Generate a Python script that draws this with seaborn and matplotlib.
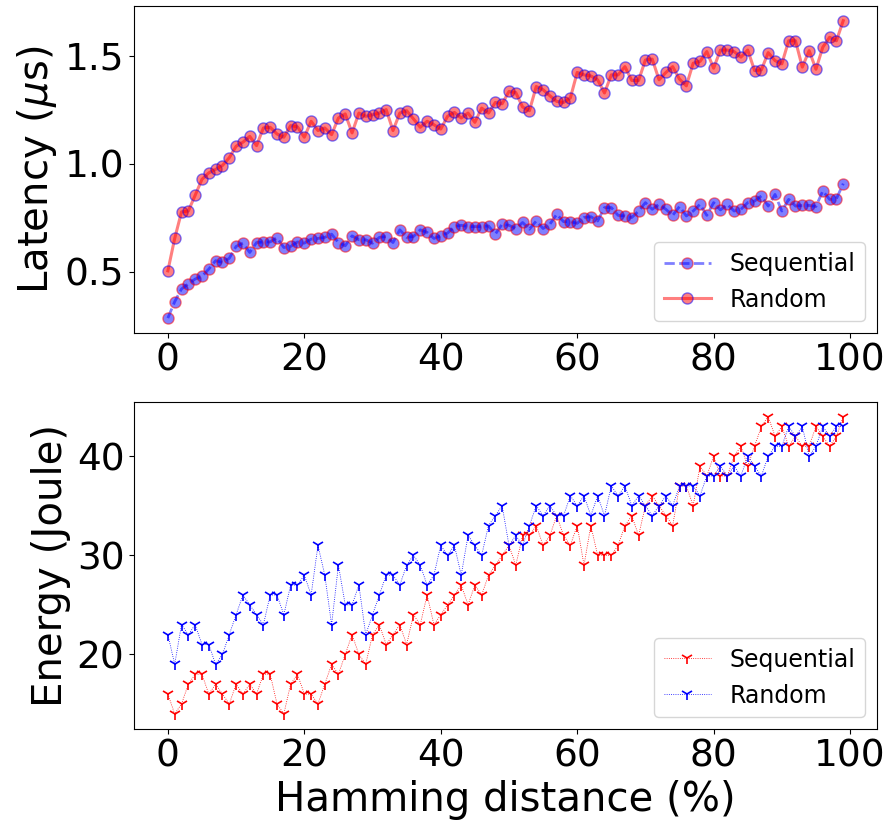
import numpy as np
import seaborn as sns
import matplotlib
matplotlib.use("Agg")
import matplotlib.pyplot as plt

hamming = np.arange(100)

# latency (us)
latency_seq = [
    0.285, 0.361, 0.420, 0.443, 0.466, 0.479, 0.512, 0.551, 0.543, 0.562,
    0.617, 0.632, 0.589, 0.635, 0.638, 0.638, 0.657, 0.612, 0.617, 0.638,
    0.632, 0.651, 0.654, 0.659, 0.674, 0.635, 0.620, 0.666, 0.648, 0.648,
    0.632, 0.659, 0.663, 0.635, 0.694, 0.659, 0.663, 0.694, 0.682, 0.654,
    0.666, 0.679, 0.709, 0.715, 0.709, 0.709, 0.709, 0.712, 0.674, 0.720,
    0.715, 0.700, 0.728, 0.697, 0.735, 0.700, 0.720, 0.766, 0.732, 0.732,
    0.724, 0.751, 0.755, 0.735, 0.797, 0.797, 0.761, 0.758, 0.751, 0.781,
    0.820, 0.789, 0.812, 0.789, 0.761, 0.802, 0.758, 0.781, 0.812, 0.761,
    0.820, 0.786, 0.812, 0.781, 0.789, 0.820, 0.827, 0.851, 0.804, 0.858,
    0.781, 0.835, 0.804, 0.807, 0.807, 0.802, 0.874, 0.835, 0.838, 0.908,
]
latency_rand = [
    0.504, 0.654, 0.777, 0.781, 0.854, 0.928, 0.958, 0.974, 0.992, 1.028,
    1.081, 1.100, 1.127, 1.084, 1.166, 1.169, 1.138, 1.123, 1.177, 1.171,
    1.123, 1.197, 1.154, 1.166, 1.135, 1.212, 1.231, 1.143, 1.235, 1.220,
    1.227, 1.235, 1.251, 1.154, 1.235, 1.246, 1.208, 1.169, 1.197, 1.181,
    1.161, 1.220, 1.238, 1.212, 1.235, 1.192, 1.258, 1.235, 1.284, 1.278,
    1.335, 1.330, 1.263, 1.246, 1.358, 1.343, 1.315, 1.289, 1.284, 1.305,
    1.423, 1.412, 1.407, 1.389, 1.328, 1.412, 1.412, 1.450, 1.386, 1.386,
    1.481, 1.485, 1.389, 1.423, 1.450, 1.392, 1.361, 1.466, 1.474, 1.520,
    1.443, 1.527, 1.527, 1.520, 1.494, 1.527, 1.432, 1.435, 1.515, 1.478,
    1.463, 1.570, 1.570, 1.448, 1.524, 1.438, 1.540, 1.586, 1.570, 1.663,
]

# energy (Joule), bottom panel
energy_seq = [
    16, 14, 15, 17, 18, 18, 16, 17, 16, 15, 17, 16, 17, 16, 18, 18, 15, 14, 17, 18,
    16, 16, 15, 17, 19, 18, 20, 22, 20, 19, 22, 23, 21, 22, 23, 21, 24, 23, 26, 23,
    24, 25, 26, 27, 25, 27, 26, 28, 29, 30, 31, 29, 32, 32, 33, 31, 32, 34, 32, 31,
    33, 29, 33, 30, 30, 30, 31, 33, 34, 32, 35, 36, 35, 34, 33, 37, 37, 35, 39, 38,
    40, 38, 38, 40, 41, 39, 41, 43, 44, 42, 43, 41, 42, 41, 41, 43, 42, 41, 42, 44,
]
energy_rand = [
    22, 19, 23, 22, 23, 21, 21, 19, 20, 22, 24, 26, 25, 24, 23, 26, 26, 24, 27, 27,
    28, 26, 31, 28, 23, 29, 25, 25, 27, 22, 24, 26, 28, 28, 27, 29, 30, 29, 27, 28,
    31, 30, 31, 28, 32, 31, 30, 33, 34, 35, 31, 32, 31, 33, 35, 34, 35, 34, 34, 36,
    35, 36, 34, 36, 34, 37, 36, 37, 35, 36, 35, 34, 35, 36, 35, 37, 37, 37, 36, 38,
    38, 39, 38, 39, 38, 40, 39, 38, 40, 41, 41, 43, 42, 43, 40, 41, 43, 42, 43, 43,
]

fig, (ax1, ax2) = plt.subplots(2, 1, figsize=(8.94, 8.31), dpi=100)
fig.subplots_adjust(left=0.150, right=0.981, top=0.993, bottom=0.123, hspace=0.21)

# top: latency
sns.lineplot(x=hamming, y=latency_seq, ax=ax1, color="blue", linestyle="--",
             linewidth=2, marker="o", markersize=8, markerfacecolor="blue",
             markeredgecolor="red", markeredgewidth=1, alpha=0.5, label="Sequential")
sns.lineplot(x=hamming, y=latency_rand, ax=ax1, color="red", linestyle="-",
             linewidth=2.2, marker="o", markersize=8, markerfacecolor="red",
             markeredgecolor="blue", markeredgewidth=1, alpha=0.5, label="Random")
ax1.set_ylabel("Latency ($\\mu$s)", fontsize=29)
ax1.set_xticks([0, 20, 40, 60, 80, 100])
ax1.set_yticks([0.5, 1.0, 1.5])
ax1.tick_params(labelsize=27)
ax1.legend(loc="lower right", fontsize=17)

# bottom: energy
sns.lineplot(x=hamming, y=energy_seq, ax=ax2, color="red", linestyle=":",
             linewidth=0.6, marker="1", markersize=9, markeredgecolor="red",
             markeredgewidth=1.2, label="Sequential")
sns.lineplot(x=hamming, y=energy_rand, ax=ax2, color="blue", linestyle=":",
             linewidth=0.6, marker="1", markersize=9, markeredgecolor="blue",
             markeredgewidth=1.2, label="Random")
ax2.set_ylabel("Energy (Joule)", fontsize=29)
ax2.set_xlabel("Hamming distance (%)", fontsize=29)
ax2.set_xticks([0, 20, 40, 60, 80, 100])
ax2.set_yticks([20, 30, 40])
ax2.tick_params(labelsize=27)
ax2.legend(loc="lower right", fontsize=17)

fig.savefig("out.png", dpi=100)
